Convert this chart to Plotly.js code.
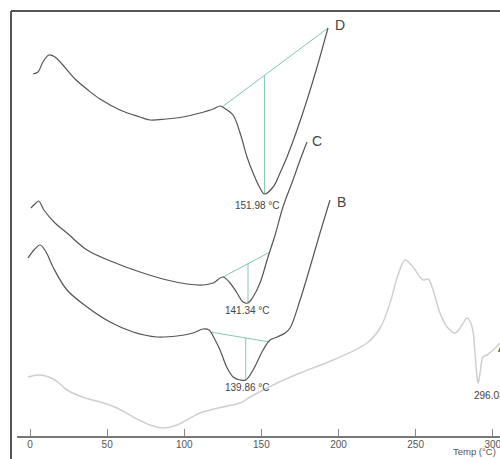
<!DOCTYPE html>
<html>
<head>
<meta charset="utf-8">
<script src="https://cdn.plot.ly/plotly-3.0.1.min.js"></script>
<style>html,body{margin:0;padding:0;background:#fff}#chart{width:500px;height:459px}</style>
</head>
<body>
<div id="chart"></div>
<script>
// Temperatures (°C) and heat flow (arbitrary units, curves offset vertically)
const dTemp = [1.9,5.2,8.4,12.3,16.2,20.7,29.2,37.6,45.4,58.4,71.3,77.8,88.2,99.2,110.2,118.7,123.2,125.8,131.6,136.2,140.7,144.6,149.1,152.0,157.6,162.1,166.6,173.1,179.6,186.1,193.2];
const dFlow = [362,364,374,381,379,372,357,346,337,326,319,316,317,319,323,327,330,328,321,303,279,263,248,242,249,263,279,306,336,369,408];

const cTemp = [0.6,3.2,5.6,9.0,16.2,24.0,37.0,53.8,71.3,88.8,101.8,112.2,118.7,125.1,129.7,134.2,138.1,141.3,144.6,149.1,154.3,158.9,164.0,170.5,175.1,179.6];
const cFlow = [228,232,235,226,213,203,186,174,164,156,152,151,153,159,153,143,134,133,139,153,179,201,229,256,276,294];

const bTemp = [-1.3,2.6,6.5,10.4,14.9,24.0,37.0,51.9,66.8,82.3,95.3,105.7,112.2,116.1,120.0,123.2,127.8,131.7,136.2,139.9,144.6,151.1,155.6,160.2,165.4,168.6,175.1,181.6,188.0,194.5];
const bFlow = [178,186,191,184,169,146,129,114,104,99,100,103,107,106,96,86,68,59,56,56,66,86,96,99,103,108,136,169,203,236];

const aTemp = [-1.3,6.5,16.2,24.0,35.7,45.4,56.4,68.1,77.8,86.2,95.3,110.2,127.8,136.2,142.7,160.2,175.1,196.5,218.5,227.0,233.4,238.6,243.2,248.3,254.8,258.1,261.3,265.8,270.4,275.6,280.1,283.4,286.6,288.5,289.8,290.5,291.8,293.7,296.3,300.2,304.7];
const aFlow = [59,61,56,46,38,34,28,18,11,8,11,23,30,33,39,53,63,76,93,108,133,161,176,169,156,157,146,123,109,103,111,118,109,83,59,53,63,79,81,86,93];

// Integration baselines and peak temperatures
const dBaseT = [124.5,193.2], dBaseY = [329,408], dPeakT = 151.98, dPeakY = 242;
const cBaseT = [125.1,155.6], cBaseY = [159,184], cPeakT = 141.34, cPeakY = 133;
const bBaseT = [116.7,155.6], bBaseY = [104,94],  bPeakT = 139.86, bPeakY = 56;

const tickVals = [0,50,100,150,200,250,300];
const peakLabels = ['151.98 °C','141.34 °C','139.86 °C','296.03 °C'];
const curveNames = ['D','C','B','A'];

function baseAt(bt, by, t){ return by[0] + (t-bt[0])/(bt[1]-bt[0])*(by[1]-by[0]); }

const dark = '#555555', light = '#cfcfcf', teal = '#82c7b4';
const traces = [];
function curve(x,y,c,w){ traces.push({x:x,y:y,mode:'lines',line:{color:c,width:w,shape:'spline',smoothing:1},hoverinfo:'skip',showlegend:false}); }
function seg(x,y){ traces.push({x:x,y:y,mode:'lines',line:{color:teal,width:1},hoverinfo:'skip',showlegend:false}); }

seg(dBaseT,dBaseY); seg([dPeakT,dPeakT],[dPeakY,baseAt(dBaseT,dBaseY,dPeakT)]);
seg(cBaseT,cBaseY); seg([cPeakT,cPeakT],[cPeakY,baseAt(cBaseT,cBaseY,cPeakT)]);
seg(bBaseT,bBaseY); seg([bPeakT,bPeakT],[bPeakY,baseAt(bBaseT,bBaseY,bPeakT)]);
curve(aTemp,aFlow,light,1.5);
curve(bTemp,bFlow,dark,1.2);
curve(cTemp,cFlow,dark,1.2);
curve(dTemp,dFlow,dark,1.2);

const F = 'Liberation Sans, Arial, sans-serif';
function ann(x,y,t,size,anchor){ return {x:x,y:y,xref:'x',yref:'y',text:t,showarrow:false,xanchor:anchor||'center',yanchor:'middle',font:{family:F,size:size,color:'#444'}}; }

const layout = {
  width:500, height:459,
  margin:{l:0,r:0,t:0,b:0},
  paper_bgcolor:'#fff', plot_bgcolor:'#fff',
  showlegend:false,
  xaxis:{domain:[0.034,1], range:[-8.43,304.7], showgrid:false, zeroline:false,
         showline:true, linecolor:'#777', linewidth:1.5,
         tickvals:tickVals, ticks:'inside', ticklen:7, tickcolor:'#888', tickwidth:1,
         ticklabeloverflow:'allow', ticklabelstandoff:-2,
         tickfont:{family:F,size:10,color:'#555'}, fixedrange:true},
  yaxis:{domain:[0.0501,1], range:[0,436], visible:false, fixedrange:true},
  shapes:[
    {type:'line',xref:'paper',yref:'paper',x0:0.022,x1:1,y0:0.976,y1:0.976,line:{color:'#555',width:2}},
    {type:'line',xref:'paper',yref:'paper',x0:0.022,x1:0.022,y0:0,y1:0.976,line:{color:'#555',width:2}}
  ],
  annotations:[
    ann(196.5,411,curveNames[0],14,'left'),
    ann(181.8,295,curveNames[1],14,'left'),
    ann(197.8,234,curveNames[2],14,'left'),
    ann(302.1,89,curveNames[3],14,'left'),
    ann(147.8,231,peakLabels[0],10),
    ann(140.7,126,peakLabels[1],10),
    ann(141.3,49,peakLabels[2],10),
    ann(286.6,41,peakLabels[3],10,'left'),
    {x:0.996,y:0,xref:'paper',yref:'paper',text:'Temp (°C)',showarrow:false,xanchor:'right',yanchor:'bottom',font:{family:F,size:9.5,color:'#555'}}
  ]
};
Plotly.newPlot('chart',traces,layout,{staticPlot:true,displayModeBar:false});
</script>
</body>
</html>
